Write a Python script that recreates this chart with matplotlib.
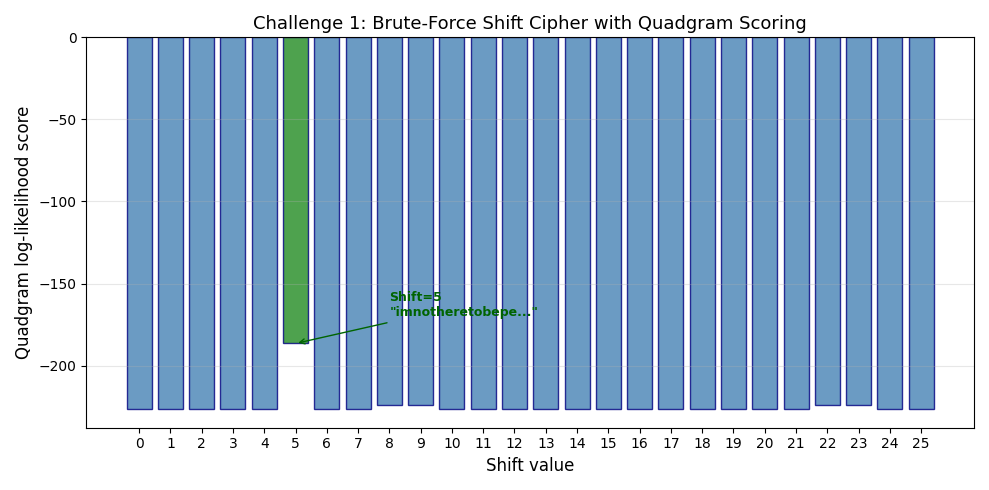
import matplotlib
matplotlib.use("Agg")
import matplotlib.pyplot as plt

# Scores per shift
shifts = list(range(26))
scores = [-226.5, -226.5, -226.5, -226.5, -226.5, -186.5, -226.5, -226.5,
          -224.0, -224.0, -226.5, -226.5, -226.5, -226.5, -226.5, -226.5,
          -226.5, -226.5, -226.5, -226.5, -226.5, -226.5, -224.0, -224.0,
          -226.5, -226.5]
best_shift = 5
best_text = 'Shift=5\n"imnotheretobepe..."'

colors = ["forestgreen" if s == best_shift else "steelblue" for s in shifts]

fig, ax = plt.subplots(figsize=(9.89, 4.9), dpi=100)
ax.bar(shifts, scores, color=colors, alpha=0.8, edgecolor="navy")
ax.set_xticks(shifts)
ax.set_xlabel("Shift value", fontsize=12)
ax.set_ylabel("Quadgram log-likelihood score", fontsize=12)
ax.set_title("Challenge 1: Brute-Force Shift Cipher with Quadgram Scoring", fontsize=13)
ax.grid(axis="y", alpha=0.3)
ax.annotate(best_text, xy=(best_shift, scores[best_shift]), xytext=(8, -170),
            fontsize=9, fontweight="bold", color="darkgreen",
            arrowprops=dict(arrowstyle="->", color="darkgreen"))

plt.tight_layout()
plt.savefig("out.png")
